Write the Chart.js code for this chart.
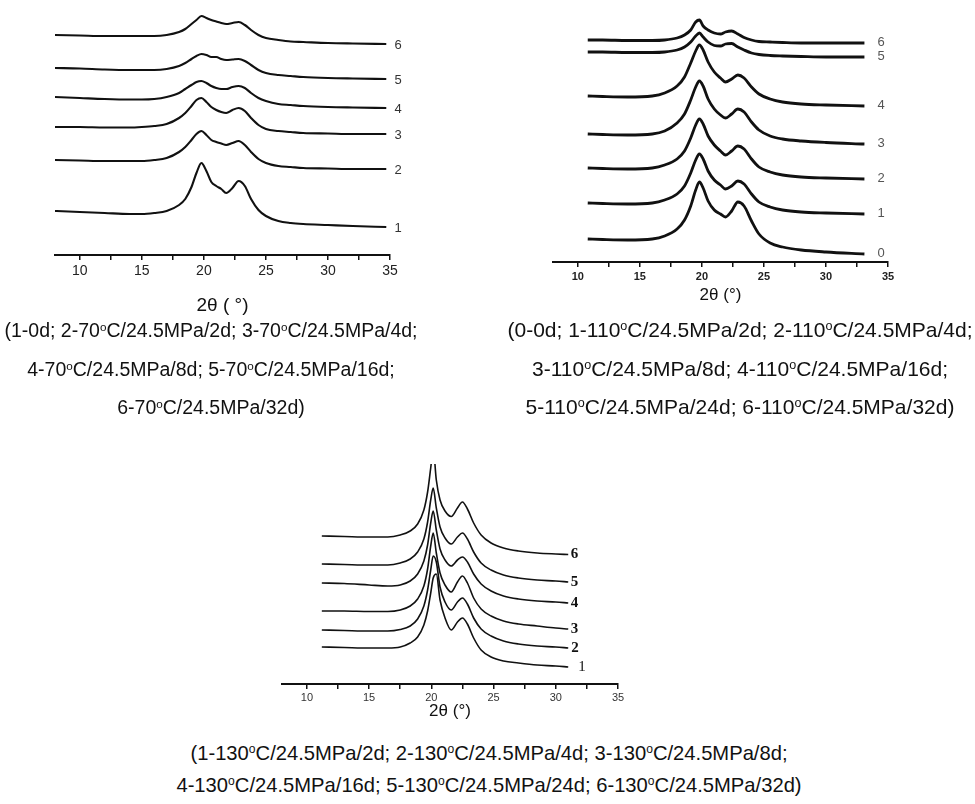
<!DOCTYPE html>
<html>
<head>
<meta charset="utf-8">
<script src="https://cdn.jsdelivr.net/npm/chart.js@4.4.1/dist/chart.umd.min.js"></script>
<style>
  html, body { margin: 0; padding: 0; background: #fff; }
  body { width: 975px; height: 804px; position: relative; overflow: hidden; font-family: 'Liberation Sans', Arial, sans-serif; color: #111; }
  canvas { position: absolute; }
  .cap { position: absolute; text-align: center; white-space: nowrap; color: #111; }
  .cap div { position: absolute; left: 0; right: 0; }
  .deg { font-size: 0.6em; vertical-align: 0.55em; }
</style>
</head>
<body>
<canvas id="c1" width="430" height="320" style="left:0px;top:0px;"></canvas>
<canvas id="c2" width="475" height="310" style="left:500px;top:0px;"></canvas>
<canvas id="c3" width="420" height="285" style="left:230px;top:440px;"></canvas>

<div class="cap" style="left:-100px;width:622px;top:0;font-size:19.5px;">
  <div style="top:319px;">(1-0d; 2-70<span class="deg">o</span>C/24.5MPa/2d; 3-70<span class="deg">o</span>C/24.5MPa/4d;</div>
  <div style="top:358px;">4-70<span class="deg">o</span>C/24.5MPa/8d; 5-70<span class="deg">o</span>C/24.5MPa/16d;</div>
  <div style="top:396px;">6-70<span class="deg">o</span>C/24.5MPa/32d)</div>
</div>
<div class="cap" style="left:440px;width:600px;top:0;font-size:21px;">
  <div style="top:318px;">(0-0d; 1-110<span class="deg">o</span>C/24.5MPa/2d; 2-110<span class="deg">o</span>C/24.5MPa/4d;</div>
  <div style="top:357px;">3-110<span class="deg">o</span>C/24.5MPa/8d; 4-110<span class="deg">o</span>C/24.5MPa/16d;</div>
  <div style="top:395px;">5-110<span class="deg">o</span>C/24.5MPa/24d; 6-110<span class="deg">o</span>C/24.5MPa/32d)</div>
</div>
<div class="cap" style="left:139px;width:700px;top:0;font-size:20.2px;">
  <div style="top:742px;">(1-130<span class="deg">o</span>C/24.5MPa/2d; 2-130<span class="deg">o</span>C/24.5MPa/4d; 3-130<span class="deg">o</span>C/24.5MPa/8d;</div>
  <div style="top:774px;">4-130<span class="deg">o</span>C/24.5MPa/16d; 5-130<span class="deg">o</span>C/24.5MPa/24d; 6-130<span class="deg">o</span>C/24.5MPa/32d)</div>
</div>

<script>
// ---------- shared axis ticks ----------
const xTicks = [10, 12.5, 15, 17.5, 20, 22.5, 25, 27.5, 30, 32.5, 35];

// ---------- Panel 1 (70 °C) ----------
const p1Labels = ['1', '2', '3', '4', '5', '6'];
const p1X = [8, 10, 12, 14, 15, 16, 17, 18, 18.5, 19, 19.4, 19.8, 20.2, 20.6, 21, 21.4, 21.8, 22.3, 22.8, 23.3, 23.8, 24.4, 25, 26, 27, 28, 30, 32, 34.7];
const p1S1 = [44, 43, 42, 41, 41, 42, 44, 50, 56, 68, 82, 92, 84, 73, 69, 66, 62, 67, 74, 69, 56, 45, 39, 34, 32, 31, 30, 29, 28];
const p1S2 = [95, 94.5, 94, 94, 94, 95, 97, 103, 108, 115, 121, 124, 120, 115, 113, 111.5, 110, 112, 114, 110, 103, 96, 92, 89, 88, 87, 86.5, 86, 86];
const p1S3 = [128, 128, 127.5, 127.5, 128, 129, 131, 137, 142, 149, 155, 157, 153, 148, 145, 143, 142, 145, 147, 144, 137, 130, 126, 124, 123, 122, 121.5, 121, 121];
const p1S4 = [158, 157, 156, 155.5, 155.5, 156, 158, 162, 166, 170, 173, 174, 172, 169, 167, 166, 166, 168, 169, 167, 162, 157, 154, 151, 150, 149, 148, 147.5, 147];
const p1S5 = [187, 186.5, 185.5, 185, 185, 185, 186, 189, 192, 196, 199, 201, 200, 198, 198, 196, 195, 195.5, 196, 194, 190, 185, 182, 180, 179, 178, 177, 176.5, 176];
const p1S6 = [220, 219.5, 219, 219, 219, 219, 220, 223, 226, 231, 235, 239, 237, 235, 233.5, 232, 231, 232, 233, 230, 225, 220, 217, 215, 213.5, 213, 212, 211.5, 211];

// ---------- Panel 2 (110 °C) ----------
const p2Labels = ['0', '1', '2', '3', '4', '5', '6'];
const p2X = [10.8, 12, 14, 16, 17, 18, 18.6, 19.1, 19.5, 19.8, 20.1, 20.5, 21, 21.5, 21.9, 22.4, 22.9, 23.4, 24, 24.6, 25.5, 26.5, 28, 30, 33.1];
const p2S0 = [23, 22.5, 22, 23, 26, 33, 42, 56, 72, 80, 74, 61, 52, 48, 45, 51, 60, 56, 41, 28, 19, 15, 12, 10, 8];
const p2S1 = [59, 58.5, 58, 59, 62, 68, 76, 89, 102, 108, 103, 91, 82, 77, 73, 76, 81, 78, 68, 60, 55, 52, 50, 49, 48];
const p2S2 = [94, 93.5, 93, 94, 97, 103, 111, 124, 137, 143, 138, 126, 117, 111, 107, 111, 116, 113, 103, 95, 90, 87, 85, 84, 83];
const p2S3 = [128, 127.5, 127, 128, 131, 139, 148, 162, 175, 181, 176, 163, 153, 147, 144, 148, 153, 150, 140, 132, 126, 123, 121, 119.5, 118];
const p2S4 = [166, 165.5, 165, 166, 169, 176, 185, 199, 211, 217, 212, 200, 190, 184, 180, 183, 187, 184, 175, 168, 163, 160, 158, 157, 156];
const p2S5 = [210, 210, 209.5, 209.5, 210, 212, 215, 220, 226, 229, 225, 220, 216.5, 216, 218, 218.5, 215, 212, 209, 207.5, 206.5, 206, 205.5, 205, 205];
const p2S6 = [222, 222, 221.5, 221.5, 222, 224, 227, 232, 240, 242, 236, 232, 229, 228, 230, 231, 228, 224.5, 222, 220.5, 220, 219.5, 219, 219, 219];

// ---------- Panel 3 (130 °C) ----------
const p3Labels = ['1', '2', '3', '4', '5', '6'];
const p3X = [11.2, 13, 15, 16.5, 17.5, 18.3, 18.9, 19.4, 19.7, 19.95, 20.15, 20.4, 20.7, 21.1, 21.6, 22.1, 22.5, 22.9, 23.4, 24, 24.8, 25.8, 27, 28.5, 30, 31.0];
const p3S1 = [37, 36.5, 36, 36, 37, 41, 47, 59, 73, 91, 106, 110, 84, 66, 54, 62, 66, 60, 46, 34, 27, 23, 21, 19, 18, 17];
const p3S2 = [54, 53.5, 53, 53, 54.5, 58, 65, 78, 94, 114, 128, 122, 97, 82, 74, 82, 86, 80, 66, 55, 48, 43, 40, 38, 37, 36];
const p3S3 = [73, 73, 72.5, 72.5, 74, 78, 85, 98, 115, 138, 151, 131, 111, 99, 92, 102, 108, 101, 86, 75, 68, 63, 60, 58, 56, 55];
const p3S4 = [101, 100.5, 99, 98, 99, 103, 110, 123, 139, 161, 173, 154, 135, 124, 118, 124, 127, 122, 110, 100, 93, 88, 85, 83, 82, 81];
const p3S5 = [120, 119.5, 119, 119, 121, 125, 132, 145, 162, 184, 196, 176, 157, 146, 140, 147, 151, 145, 132, 121, 114, 109, 106, 104, 103, 102];
const p3S6 = [148, 147.5, 147, 147, 149, 153, 160, 174, 192, 216, 235, 204, 184, 173, 167.5, 176, 182, 175, 161, 149, 141, 136, 133, 131, 130, 129.5];

// ---------- helpers ----------
const SANS = "'Liberation Sans', Arial, sans-serif";
const SERIF = "'Liberation Serif', 'Times New Roman', serif";

const endLabels = {
  id: 'endLabels',
  afterDatasetsDraw(chart, args, o) {
    const { ctx } = chart;
    const xs = chart.scales.x, ys = chart.scales.y;
    ctx.save();
    ctx.textAlign = 'center';
    ctx.textBaseline = 'middle';
    ctx.fillStyle = o.color;
    chart.data.datasets.forEach((ds, i) => {
      const last = ds.data[ds.data.length - 1];
      ctx.font = (o.fonts && o.fonts[i]) || o.font;
      const lx = Array.isArray(o.x) ? o.x[i] : o.x;
      ctx.fillText(ds.label, xs.getPixelForValue(lx), ys.getPixelForValue(last.y) + o.dy);
    });
    ctx.restore();
  }
};

function makeChart(id, xs, series, labels, cfg) {
  const datasets = series.map((s, i) => ({
    label: labels[i],
    data: xs.map((x, j) => ({ x: x, y: s[j] })),
    borderColor: '#111',
    borderWidth: cfg.lw,
    pointRadius: 0,
    fill: false,
    cubicInterpolationMode: 'monotone'
  }));
  return new Chart(document.getElementById(id), {
    type: 'line',
    data: { datasets },
    plugins: [endLabels],
    options: {
      responsive: false,
      animation: false,
      devicePixelRatio: 1,
      layout: { padding: cfg.padding },
      plugins: {
        legend: { display: false },
        tooltip: { enabled: false },
        endLabels: cfg.labels
      },
      scales: {
        x: {
          type: 'linear',
          min: 8, max: 35,
          afterBuildTicks: (sc) => { sc.ticks = xTicks.map(v => ({ value: v })); },
          afterFit: (sc) => { sc.height = cfg.scaleH; },
          ticks: {
            autoSkip: false,
            maxRotation: 0,
            padding: cfg.tickPad,
            color: cfg.tickColor,
            font: cfg.tickFont,
            callback: (v) => (v % 5 === 0 ? String(v) : '')
          },
          grid: { drawOnChartArea: false, drawTicks: true, tickLength: 5, color: '#111', lineWidth: 1.5 },
          border: { display: true, color: '#111', width: cfg.axisW },
          title: { display: true, text: cfg.title, color: '#111', font: cfg.titleFont, padding: { top: 0, bottom: cfg.titlePad } }
        },
        y: {
          type: 'linear',
          display: false,
          min: 0, max: cfg.ymax
        }
      }
    }
  });
}

makeChart('c1', p1X, [p1S1, p1S2, p1S3, p1S4, p1S5, p1S6], p1Labels, {
  lw: 2.1, axisW: 2, ymax: 250, scaleH: 65, tickPad: 3, titlePad: 3,
  padding: { left: 55, right: 40, top: 5, bottom: 0 },
  tickColor: '#222', tickFont: { family: SANS, size: 14 },
  title: '2\u03B8 ( \u00B0)', titleFont: { family: SANS, size: 19 },
  labels: { x: 35.65, dy: 1, color: '#333', font: '13px ' + SANS }
});

makeChart('c2', p2X, [p2S0, p2S1, p2S2, p2S3, p2S4, p2S5, p2S6], p2Labels, {
  lw: 2.8, axisW: 2, ymax: 252, scaleH: 48, tickPad: 3, titlePad: 4,
  padding: { left: 53, right: 87, top: 10, bottom: 0 },
  tickColor: '#222', tickFont: { family: SANS, size: 11, weight: 'bold' },
  title: '2\u03B8 (\u00B0)', titleFont: { family: SANS, size: 17 },
  labels: { x: 34.45, dy: -1, color: '#555', font: '13px ' + SANS }
});

makeChart('c3', p3X, [p3S1, p3S2, p3S3, p3S4, p3S5, p3S6], p3Labels, {
  lw: 1.6, axisW: 2, ymax: 220, scaleH: 41, tickPad: 2, titlePad: 3,
  padding: { left: 52, right: 32, top: 24, bottom: 0 },
  tickColor: '#333', tickFont: { family: SANS, size: 11 },
  title: '2\u03B8 (\u00B0)', titleFont: { family: SANS, size: 17 },
  labels: { x: [32.1, 31.55, 31.5, 31.5, 31.5, 31.5], dy: 0, color: '#111',
            font: 'bold 15px ' + SERIF, fonts: ['15px ' + SERIF] }
});
</script>
</body>
</html>
